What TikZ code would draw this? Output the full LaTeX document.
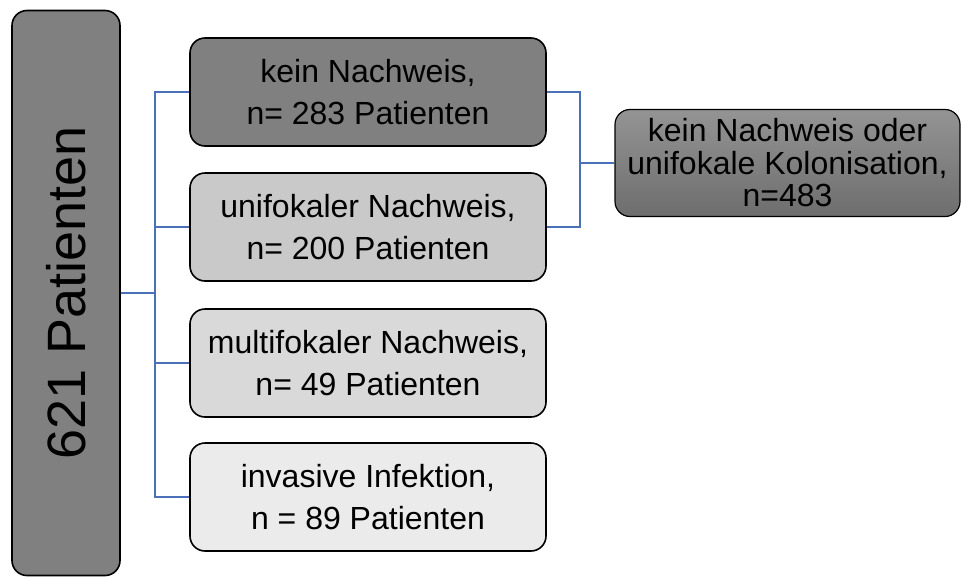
\documentclass[tikz,border=0pt]{standalone}
\usepackage{fontspec}
\setmainfont{Liberation Sans}
\usetikzlibrary{positioning}

\definecolor{linkblue}{HTML}{4A70B8}

\begin{document}
\begin{tikzpicture}
  [ x=1pt, y=-1pt,
    bx/.style={rectangle, draw=black, line width=1.6pt, rounded corners=15pt,
      minimum width=356pt, minimum height=108pt, align=center,
      font=\fontsize{32}{42}\selectfont},
    bx1/.style={bx, fill=black!50},
    bx2/.style={bx, fill=black!21},
    bx3/.style={bx, fill=black!15},
    bx4/.style={bx, fill=black!8},
    total/.style={rectangle, draw=black, line width=1.6pt, rounded corners=15pt,
      minimum width=565pt, minimum height=108pt, fill=black!50,
      font=\fontsize{54}{60}\selectfont},
    res/.style={rectangle, draw=black, line width=1.2pt, rounded corners=15pt,
      minimum width=345pt, minimum height=107pt, align=center,
      top color=black!42, bottom color=black!57,
      font=\fontsize{32}{32.5}\selectfont},
    line/.style={-, line width=1.8pt, draw=linkblue}
  ]

  \useasboundingbox (0,0) rectangle (961,576);

  \node[total, rotate=90] (all) at (66,293) {621 Patienten};

  \node[bx1] (kein) at (368,92) {kein Nachweis,\\n= 283 Patienten};
  \node[bx2] (uni) at (368,227) {unifokaler Nachweis,\\n= 200 Patienten};
  \node[bx3] (multi) at (368,363) {multifokaler Nachweis,\\n= 49 Patienten};
  \node[bx4] (inv) at (368,497) {invasive Infektion,\\n = 89 Patienten};

  \node[res] (sum) at (787.5,163) {kein Nachweis oder\\unifokale Kolonisation,\\n=483};

  \coordinate (trunk) at (155,0);
  \coordinate (join) at (580,0);

  \draw [line] (all.south) -- (trunk |- all.south);
  \draw [line] (kein.west) -| (trunk |- all.south);
  \draw [line] (uni.west) -| (trunk |- all.south);
  \draw [line] (multi.west) -| (trunk |- all.south);
  \draw [line] (inv.west) -| (trunk |- all.south);

  \draw [line] (kein.east) -| (join |- sum.west);
  \draw [line] (uni.east) -| (join |- sum.west);
  \draw [line, line width=2.4pt] (join |- sum.west) -- (sum.west);
\end{tikzpicture}
\end{document}
